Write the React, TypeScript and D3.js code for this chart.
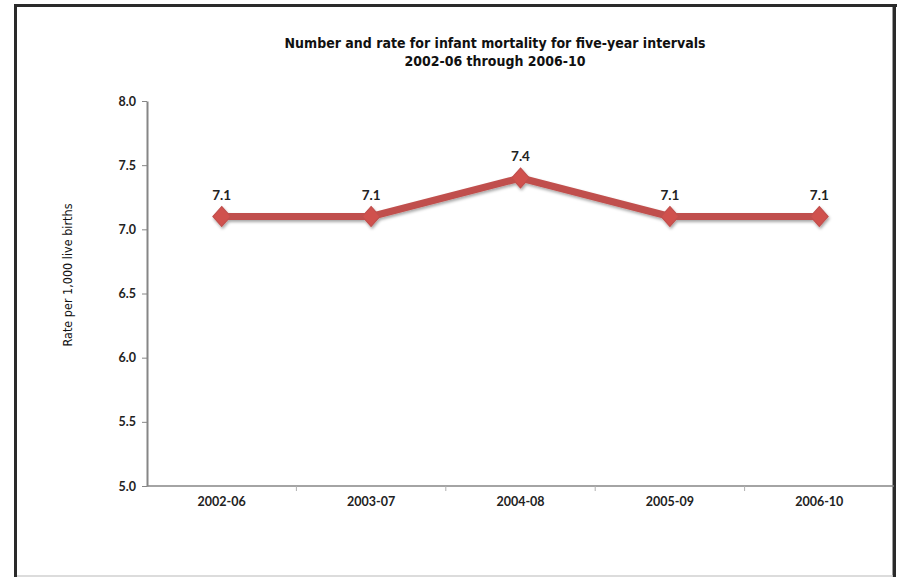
import React, { useEffect, useRef } from "react";
import * as d3 from "d3";

const categories = ["2002-06", "2003-07", "2004-08", "2005-09", "2006-10"];
const rates = [7.1, 7.1, 7.4, 7.1, 7.1];
const yTicks = [5.0, 5.5, 6.0, 6.5, 7.0, 7.5, 8.0];
const titleLines = [
  "Number and rate for infant mortality for five-year intervals",
  "2002-06 through 2006-10",
];
const yLabel = "Rate per 1,000 live births";

const W = 898;
const H = 577;

export default function App() {
  const ref = useRef<SVGSVGElement>(null);

  useEffect(() => {
    const svg = d3.select(ref.current);
    svg.selectAll("*").remove();

    const left = 147, right = 894, top = 101, bottom = 486;
    const x = d3.scaleBand<string>().domain(categories).range([left, right]).padding(0);
    const y = d3.scaleLinear().domain([5, 8]).range([bottom, top]);

    const defs = svg.append("defs");
    const f = defs.append("filter").attr("id", "sh").attr("x", "-20%").attr("y", "-50%").attr("width", "140%").attr("height", "200%");
    f.append("feDropShadow").attr("dx", 1).attr("dy", 2).attr("stdDeviation", 1.5).attr("flood-color", "#000").attr("flood-opacity", 0.35);

    // background + frame
    svg.append("rect").attr("x", 0).attr("y", 0).attr("width", W).attr("height", H).attr("fill", "#fff");
    svg.append("line").attr("x1", 15.5).attr("x2", 15.5).attr("y1", 4).attr("y2", H).attr("stroke", "#2a2a2a").attr("stroke-width", 3);
    svg.append("line").attr("x1", 14).attr("x2", 897).attr("y1", 5.5).attr("y2", 5.5).attr("stroke", "#2a2a2a").attr("stroke-width", 3);
    svg.append("line").attr("x1", 894.5).attr("x2", 894.5).attr("y1", 4).attr("y2", H).attr("stroke", "#2a2a2a").attr("stroke-width", 3);
    svg.append("line").attr("x1", 892.5).attr("x2", 892.5).attr("y1", 7).attr("y2", H).attr("stroke", "#9a9a9a").attr("stroke-width", 1);
    svg.append("line").attr("x1", 17).attr("x2", 893).attr("y1", 576).attr("y2", 576).attr("stroke", "#d0d0d0").attr("stroke-width", 1.5);

    // title
    const t = svg.append("text").attr("text-anchor", "middle")
      .attr("font-family", "'Liberation Sans Narrow', 'DejaVu Sans Condensed', sans-serif")
      .attr("font-weight", "bold").attr("font-size", 14).attr("fill", "#111");
    titleLines.forEach((s, i) => {
      t.append("tspan").attr("x", 495).attr("y", 48 + i * 18).text(s);
    });

    // y axis label
    svg.append("text")
      .attr("transform", `translate(72,${275}) rotate(-90)`)
      .attr("text-anchor", "middle")
      .attr("font-family", "'Liberation Sans Narrow', 'DejaVu Sans Condensed', sans-serif")
      .attr("font-size", 12.5).attr("fill", "#111").text(yLabel);

    // y axis
    const gy = svg.append("g").attr("transform", `translate(${left},0)`)
      .call(d3.axisLeft(y).tickValues(yTicks).tickFormat(d3.format(".1f")).tickSize(5).tickSizeOuter(0));
    gy.select(".domain").attr("stroke", "#868686").attr("stroke-width", 2);
    gy.selectAll(".tick line").attr("stroke", "#868686").attr("stroke-width", 1);
    gy.selectAll(".tick text").attr("x", -11).attr("font-family", "Lato, sans-serif").attr("font-weight", "bold")
      .attr("font-size", 12.5).attr("fill", "#222");

    // x axis
    const gx = svg.append("g").attr("transform", `translate(0,${bottom})`);
    gx.append("line").attr("x1", left).attr("x2", right).attr("y1", 0).attr("y2", 0).attr("stroke", "#868686").attr("stroke-width", 1.5);
    const bounds = categories.slice(1).map((c) => x(c) as number);
    gx.selectAll("line.tk").data(bounds).enter().append("line").attr("class", "tk")
      .attr("x1", (d) => d).attr("x2", (d) => d).attr("y1", 0).attr("y2", 5).attr("stroke", "#b0b0b0").attr("stroke-width", 1);
    gx.selectAll("text").data(categories).enter().append("text")
      .attr("x", (d) => (x(d) as number) + x.bandwidth() / 2).attr("y", 20)
      .attr("text-anchor", "middle").attr("font-family", "Lato, sans-serif").attr("font-weight", "bold")
      .attr("font-size", 12.5).attr("fill", "#222").text((d) => d);

    // line
    const pts = categories.map((c, i) => [(x(c) as number) + x.bandwidth() / 2, y(rates[i])] as [number, number]);
    const g = svg.append("g").attr("filter", "url(#sh)");
    g.append("path").attr("d", d3.line()(pts)).attr("fill", "none").attr("stroke", "#C0504D").attr("stroke-width", 7)
      .attr("stroke-linejoin", "round");
    g.selectAll("path.m").data(pts).enter().append("path").attr("class", "m")
      .attr("d", d3.symbol().type(d3.symbolDiamond).size(160)())
      .attr("transform", (d) => `translate(${d[0]},${d[1]}) scale(1.3,0.85)`)
      .attr("fill", "#D0514E").attr("stroke", "#C0504D").attr("stroke-width", 1);

    svg.selectAll("text.dl").data(pts).enter().append("text").attr("class", "dl")
      .attr("x", (d) => d[0]).attr("y", (d) => d[1] - 17).attr("text-anchor", "middle")
      .attr("font-family", "Lato, sans-serif").attr("font-weight", "bold").attr("font-size", 13.5).attr("fill", "#222")
      .text((_, i) => rates[i].toFixed(1));
  }, []);

  return (
    <svg ref={ref} width={W} height={H} style={{ position: "absolute", left: 0, top: 0, display: "block" }} />
  );
}
